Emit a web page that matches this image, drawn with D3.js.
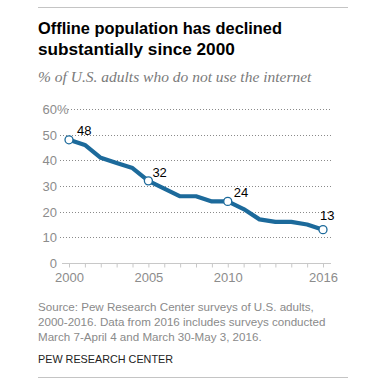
<!DOCTYPE html>
<html><head><meta charset="utf-8">
<script src="https://cdn.jsdelivr.net/npm/d3@7"></script>
<style>
html,body{margin:0;padding:0;background:#fff;}
svg{display:block;}
</style></head>
<body>
<svg id="c" width="386" height="386"></svg>
<script>
const years = [2000,2001,2002,2003,2004,2005,2006,2007,2008,2009,2010,2011,2012,2013,2014,2015,2016];
const values = [48,46,41,39,37,32,29,26,26,24,24,21,17,16,16,15,13];
const labeledYears = [2000,2005,2010,2016];
const yTicks = [0,10,20,30,40,50,60];
const xTickLabels = [2000,2005,2010,2016];
const title = ["Offline population has declined","substantially since 2000"];
const subtitle = "% of U.S. adults who do not use the internet";
const source = ["Source: Pew Research Center surveys of U.S. adults,",
  "2000-2016. Data from 2016 includes surveys conducted",
  "March 7-April 4 and March 30-May 3, 2016."];
const credit = "PEW RESEARCH CENTER";

const svg = d3.select("#c");
const blue = "#1c6a9b";
const sans = "'Liberation Sans', Arial, sans-serif";

svg.append("line").attr("x1",38).attr("x2",348).attr("y1",7.5).attr("y2",7.5).attr("stroke","#c4c4c4");
svg.append("line").attr("x1",38).attr("x2",348).attr("y1",377.5).attr("y2",377.5).attr("stroke","#c4c4c4");

svg.selectAll("text.title").data(title).enter().append("text")
  .attr("x",38).attr("y",(d,i)=>34+i*20.5)
  .attr("font-family",sans).attr("font-weight","bold").attr("font-size",17.2).attr("fill","#000")
  .attr("textLength",(d,i)=>i===0?244:null).attr("lengthAdjust","spacingAndGlyphs")
  .text(d=>d);
svg.append("text").attr("x",38).attr("y",82)
  .attr("font-family","'Liberation Serif', Georgia, serif").attr("font-style","italic")
  .attr("font-size",15.5).attr("fill","#7a7a7a").text(subtitle);

const x = d3.scaleLinear().domain([2000,2016]).range([69,323]);
const y = d3.scaleLinear().domain([0,60]).range([263,109]);

// gridlines
svg.append("g").selectAll("line").data(yTicks.filter(d=>d>0)).enter().append("line")
  .attr("x1",d=>d===60?68:60).attr("x2",331)
  .attr("y1",d=>Math.round(y(d))+0.5).attr("y2",d=>Math.round(y(d))+0.5)
  .attr("stroke","#8a8a8a").attr("stroke-width",1).attr("stroke-dasharray","1,2");

// y axis labels
const ya = svg.append("g").attr("transform","translate(57,0)")
  .call(d3.axisLeft(y).tickValues(yTicks).tickSize(0).tickPadding(0));
ya.select(".domain").remove();
ya.selectAll("text").attr("font-family",sans).attr("font-size",13).attr("fill","#8c8c8c").attr("dy","0.35em");
svg.append("text").attr("x",57).attr("y",y(60)).attr("dy","0.35em")
  .attr("font-family",sans).attr("font-size",13).attr("fill","#8c8c8c").text("%");

// baseline
svg.append("line").attr("x1",62).attr("x2",331).attr("y1",263.5).attr("y2",263.5).attr("stroke","#c8c8c8");
const xa = svg.append("g").attr("transform","translate(0,263.5)")
  .call(d3.axisBottom(x).tickValues(years).tickSize(4).tickPadding(5)
    .tickFormat(d=>xTickLabels.includes(d)?String(d):""));
xa.select(".domain").remove();
xa.selectAll("line").attr("stroke","#c8c8c8");
xa.selectAll("text").attr("font-family",sans).attr("font-size",13).attr("fill","#8c8c8c");

// line
const data = years.map((yr,i)=>({year:yr,value:values[i]}));
svg.append("path").datum(data)
  .attr("d",d3.line().x(d=>x(d.year)).y(d=>y(d.value)))
  .attr("fill","none").attr("stroke",blue).attr("stroke-width",4.2)
  .attr("stroke-linejoin","round").attr("stroke-linecap","round");

const lab = data.filter(d=>labeledYears.includes(d.year));
svg.selectAll("circle.pt").data(lab).enter().append("circle")
  .attr("cx",d=>x(d.year)).attr("cy",d=>y(d.value)).attr("r",4)
  .attr("fill","#fff").attr("stroke",blue).attr("stroke-width",1.3);

const off = {2000:[8,-5],2005:[4,-4],2010:[6,-4],2016:[-3,-10]};
svg.selectAll("text.pl").data(lab).enter().append("text")
  .attr("x",d=>x(d.year)+off[d.year][0]).attr("y",d=>y(d.value)+off[d.year][1])
  .attr("font-family",sans).attr("font-size",13).attr("fill","#000")
  .text(d=>d.value);

svg.selectAll("text.src").data(source).enter().append("text")
  .attr("x",38).attr("y",(d,i)=>311+i*15)
  .attr("font-family",sans).attr("font-size",11.6).attr("fill","#8a8a8a").text(d=>d);
svg.append("text").attr("x",38).attr("y",363)
  .attr("font-family",sans).attr("font-size",10.8).attr("fill","#222").text(credit);
</script>
</body></html>
